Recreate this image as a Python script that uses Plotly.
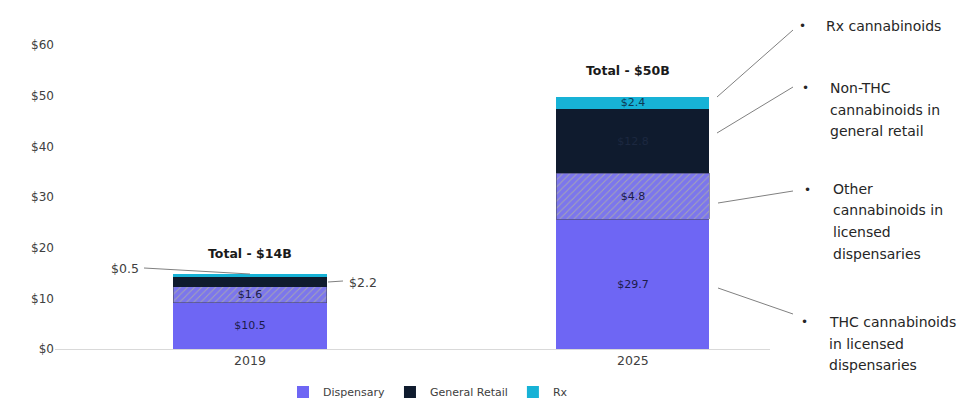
import plotly.graph_objects as go

# ---- data (segment heights as drawn, in $B) ----
categories = ["2019", "2025"]
thc_dispensary = [9.1, 25.6]
other_dispensary = [3.15, 9.05]
general_retail = [1.95, 12.8]
rx = [0.6, 2.35]

# ---- text labels shown in the chart ----
thc_labels = ["$10.5", "$29.7"]
other_labels = ["$1.6", "$4.8"]
gr_labels = ["", "$12.8"]
rx_labels = ["", "$2.4"]
total_labels = ["Total - $14B", "Total - $50B"]
outside_labels = ["$0.5", "$2.2"]
right_notes = [
    ["Rx cannabinoids"],
    ["Non-THC", "cannabinoids in", "general retail"],
    ["Other", "cannabinoids in", "licensed", "dispensaries"],
    ["THC cannabinoids", "in licensed", "dispensaries"],
]

FONT = "DejaVu Sans"
W, H = 965, 404
L, R, T, B = 55, 770, 45, 349


def px(x):
    return (x - L) / (R - L)


def py(y):
    return (B - y) / (B - T)


PURPLE = "#6E66F4"
HATCH_BG = "#7C76EC"
NAVY = "#0F1B2E"
CYAN = "#17B2D6"

fig = go.Figure()
fig.add_trace(go.Bar(
    x=categories, y=thc_dispensary, name="Dispensary", text=thc_labels,
    marker=dict(color=PURPLE, line=dict(width=0)),
    textfont=dict(color="#1B1B4A", size=11, family=FONT),
))
fig.add_trace(go.Bar(
    x=categories, y=other_dispensary, name="Other", showlegend=False, text=other_labels,
    marker=dict(color=HATCH_BG, line=dict(width=0.6, color="#4A4A6A"),
                pattern=dict(shape="/", fillmode="replace", bgcolor=HATCH_BG,
                             fgcolor="#A4A4B4", size=5, solidity=0.2)),
    textfont=dict(color="#1B1B4A", size=11, family=FONT),
))
fig.add_trace(go.Bar(
    x=categories, y=general_retail, name="General Retail", text=gr_labels,
    marker=dict(color=NAVY, line=dict(width=0)),
    textfont=dict(color="#1C2840", size=11, family=FONT),
))
fig.add_trace(go.Bar(
    x=categories, y=rx, name="Rx", text=rx_labels,
    marker=dict(color=CYAN, line=dict(width=0)),
    textfont=dict(color="#0D3A55", size=11, family=FONT),
))
fig.update_traces(textposition="inside", insidetextanchor="middle",
                  constraintext="none", width=0.4, hoverinfo="skip")

annotations = []
shapes = []

# totals
for i, (cat, lab) in enumerate(zip(categories, total_labels)):
    tot = thc_dispensary[i] + other_dispensary[i] + general_retail[i] + rx[i]
    annotations.append(dict(x=i, y=tot, xref="x", yref="y", text="<b>" + lab + "</b>",
                            showarrow=False, yanchor="bottom", yshift=(11 if i == 0 else 17),
                            xshift=(0 if i == 0 else -5),
                            font=dict(size=12.5, color="#1A1A1A", family=FONT)))

LINE = dict(color="#808080", width=1)
# 2019 outside labels ($0.5 Rx, $2.2 General Retail)
annotations.append(dict(x=px(141), y=py(268), xref="paper", yref="paper", text=outside_labels[0],
                        showarrow=False, xanchor="right", yanchor="middle",
                        font=dict(size=12.5, color="#404040", family=FONT)))
shapes.append(dict(type="line", xref="paper", yref="paper", x0=px(144), y0=py(268),
                   x1=px(250), y1=py(274), line=LINE))
annotations.append(dict(x=px(347), y=py(282), xref="paper", yref="paper", text=outside_labels[1],
                        showarrow=False, xanchor="left", yanchor="middle",
                        font=dict(size=12.5, color="#404040", family=FONT)))
shapes.append(dict(type="line", xref="paper", yref="paper", x0=px(328), y0=py(282),
                   x1=px(343), y1=py(281), line=LINE))

# right-hand notes with leader lines
leader = [((717, 97), (793, 30)), ((717, 133), (793, 87)),
          ((718, 203), (793, 191)), ((718, 288), (793, 314))]
bullets = [(802, 26), (805, 88), (807, 190), (804, 322)]
text_x = [824, 828, 831, 827]
text_y0 = [26, 88, 189, 322]
for k, note in enumerate(right_notes):
    (x0, y0), (x1, y1) = leader[k]
    shapes.append(dict(type="line", xref="paper", yref="paper", x0=px(x0), y0=py(y0),
                       x1=px(x1), y1=py(y1), line=LINE))
    bx, by = bullets[k]
    annotations.append(dict(x=px(bx), y=py(by), xref="paper", yref="paper", text="•",
                            showarrow=False, xanchor="center", yanchor="middle",
                            font=dict(size=12, color="#262626", family=FONT)))
    for j, line in enumerate(note):
        annotations.append(dict(x=px(text_x[k]), y=py(text_y0[k] + 21.5 * j), xref="paper",
                                yref="paper", text=line, showarrow=False, xanchor="left",
                                yanchor="middle",
                                font=dict(size=14, color="#262626", family=FONT)))

fig.update_layout(
    barmode="stack",
    width=W, height=H,
    margin=dict(l=L, r=W - R, t=T, b=H - B, autoexpand=False),
    paper_bgcolor="white", plot_bgcolor="white",
    font=dict(family=FONT, color="#404040"),
    uniformtext=dict(minsize=11, mode="show"),
    showlegend=True,
    legend=dict(orientation="h", traceorder="normal", x=px(428), xanchor="center",
                y=py(392), yanchor="middle",
                font=dict(size=11, color="#404040", family=FONT), itemwidth=30,
                tracegroupgap=0, bgcolor="rgba(0,0,0,0)"),
    xaxis=dict(type="category", range=[-0.509, 1.358], showline=True, linecolor="#D9D9D9",
               linewidth=1, ticks="", showgrid=False, zeroline=False,
               tickfont=dict(size=12.5, color="#404040", family=FONT)),
    yaxis=dict(range=[0, 60], dtick=10, tickprefix="$", showgrid=False, zeroline=False,
               showline=False, ticks="", tickfont=dict(size=12, color="#404040", family=FONT)),
    annotations=annotations,
    shapes=shapes,
)

fig.write_html("out.html")
